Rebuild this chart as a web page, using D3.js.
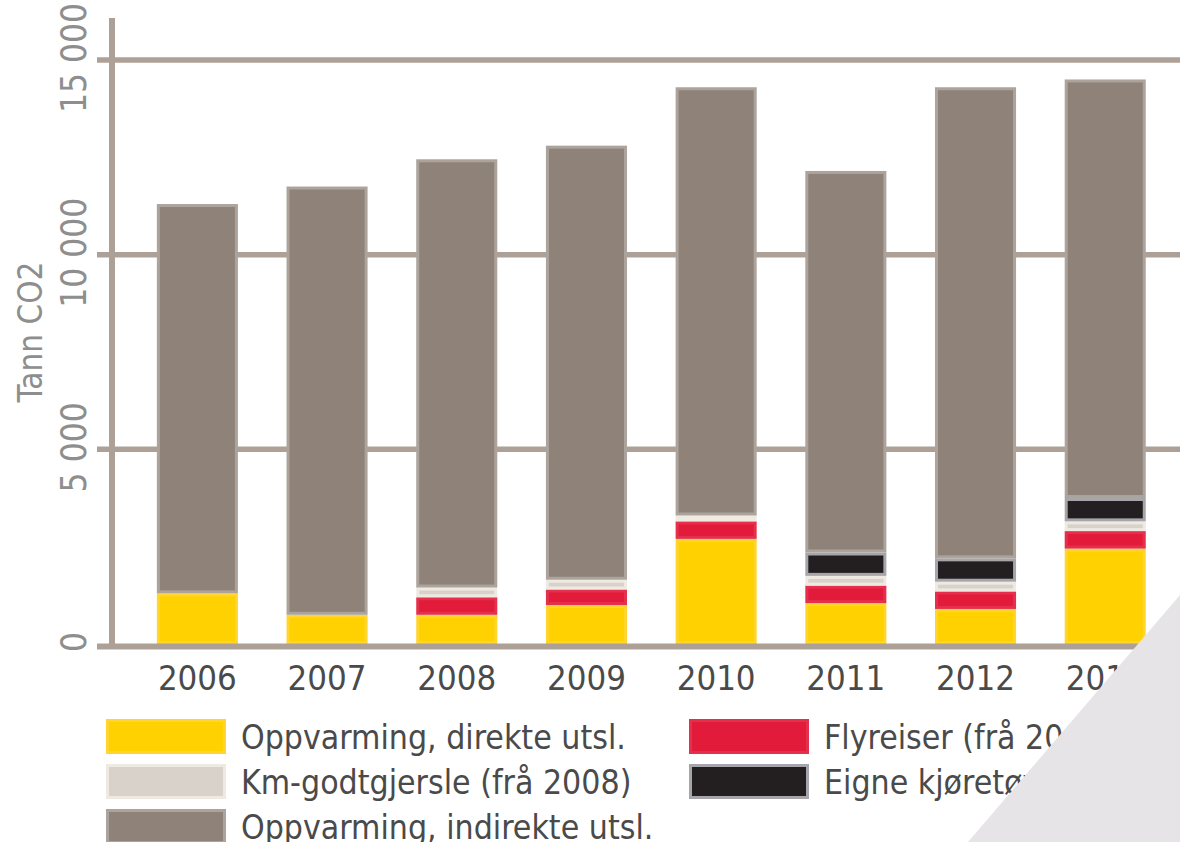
<!DOCTYPE html>
<html>
<head>
<meta charset="utf-8">
<script src="https://d3js.org/d3.v7.min.js"></script>
<style>
  body { margin: 0; background: #fff; }
  text { font-family: "Liberation Sans Narrow", "DejaVu Sans Condensed", sans-serif; }
</style>
</head>
<body>
<div id="chart"></div>
<script>
// data (tonn CO2)
var years = ["2006", "2007", "2008", "2009", "2010", "2011", "2012", "2013"];
var direkte   = [1300, 750, 750, 1000, 2700, 1050, 900, 2450];
var fly       = [0, 0, 450, 400, 450, 450, 450, 450];
var km        = [0, 0, 250, 250, 150, 250, 250, 250];
var kjoretoy  = [0, 0, 0, 0, 0, 600, 600, 600];
var indirekte = [10000, 11000, 11000, 11150, 11000, 9800, 12100, 10750];
var yTicks = [0, 5000, 10000, 15000];
var yTickLabels = ["0", "5 000", "10 000", "15 000"];

var keys = ["direkte", "fly", "km", "kjoretoy", "indirekte"];
var fills   = {direkte: "#ffd100", fly: "#e31b3b", km: "#d8d2ca", kjoretoy: "#231f20", indirekte: "#8f8279"};
var borders = {direkte: "#ffd52e", fly: "#e5304d", km: "#eeeae1", kjoretoy: "#a6a5a9", indirekte: "#aca49c"};

var rows = years.map(function(y, i) {
  return {year: y, direkte: direkte[i], fly: fly[i], km: km[i], kjoretoy: kjoretoy[i], indirekte: indirekte[i]};
});

var W = 1180, H = 842;
var svg = d3.select("#chart").append("svg").attr("width", W).attr("height", H);

var x = d3.scaleBand().domain(years).range([92, 1210.6]).paddingInner(0.375).paddingOuter(0.5);
var y = d3.scaleLinear().domain([0, 15000]).range([644, 60]);
var grid = "#ada197";

// gridlines
svg.append("g").selectAll("line")
  .data(yTicks.filter(function(d) { return d > 0; }))
  .join("line")
    .attr("x1", 97).attr("x2", W)
    .attr("y1", function(d) { return y(d); }).attr("y2", function(d) { return y(d); })
    .attr("stroke", grid).attr("stroke-width", 5.5);

// y axis line
svg.append("line").attr("x1", 112).attr("x2", 112).attr("y1", 18).attr("y2", y(0) + 4)
  .attr("stroke", grid).attr("stroke-width", 6);

// tick labels, rotated
svg.append("g").selectAll("text")
  .data(yTicks)
  .join("text")
    .attr("transform", function(d) { return "translate(86," + (y(d) - 2) + ") rotate(-90)"; })
    .attr("text-anchor", "middle")
    .attr("fill", "#8e8e8e")
    .style("font-size", "35px")
    .text(function(d, i) { return yTickLabels[i]; });

svg.append("text")
  .attr("transform", "translate(42,332) rotate(-90)")
  .attr("text-anchor", "middle")
  .attr("fill", "#8e8e8e")
  .style("font-size", "33px")
  .text("Tann CO2");

// stacked bars
var series = d3.stack().keys(keys)(rows);
svg.append("g").selectAll("g")
  .data(series)
  .join("g")
    .attr("fill", function(s) { return fills[s.key]; })
    .attr("stroke", function(s) { return borders[s.key]; })
    .attr("stroke-width", 3)
  .selectAll("rect")
  .data(function(s) { return s.filter(function(d) { return d[1] - d[0] > 0; }); })
  .join("rect")
    .attr("x", function(d) { return x(d.data.year) + 1.5; })
    .attr("width", x.bandwidth() - 3)
    .attr("y", function(d) { return y(d[1]) + 1.5; })
    .attr("height", function(d) { return Math.max(0, y(d[0]) - y(d[1]) - 3); });

// baseline
svg.append("line").attr("x1", 97).attr("x2", W).attr("y1", y(0) + 2.5).attr("y2", y(0) + 2.5)
  .attr("stroke", grid).attr("stroke-width", 6);

// year labels
svg.append("g").selectAll("text")
  .data(years)
  .join("text")
    .attr("x", function(d) { return x(d) + x.bandwidth() / 2; })
    .attr("y", 690)
    .attr("text-anchor", "middle")
    .attr("fill", "#4a4a4a")
    .style("font-size", "34.5px")
    .text(function(d) { return d; });

// legend
var legend = [
  {key: "direkte",   label: "Oppvarming, direkte utsl.",   x: 106, y: 719},
  {key: "km",        label: "Km-godtgjersle (frå 2008)",   x: 106, y: 764},
  {key: "indirekte", label: "Oppvarming, indirekte utsl.", x: 106, y: 809},
  {key: "fly",       label: "Flyreiser (frå 2008)",        x: 689, y: 719},
  {key: "kjoretoy",  label: "Eigne kjøretøy (frå 2011)",   x: 689, y: 764}
];
var lg = svg.append("g").selectAll("g").data(legend).join("g")
  .attr("transform", function(d) { return "translate(" + d.x + "," + d.y + ")"; });
lg.append("rect")
  .attr("x", 1.5).attr("y", 1.5).attr("width", 117).attr("height", 32)
  .attr("fill", function(d) { return fills[d.key]; })
  .attr("stroke", function(d) { return borders[d.key]; })
  .attr("stroke-width", 3);
lg.append("text")
  .attr("x", 135).attr("y", 30)
  .attr("fill", "#4a4a4a")
  .style("font-size", "33.5px")
  .text(function(d) { return d.label; });

// grey corner triangle
svg.append("path")
  .attr("d", "M968," + H + "L" + W + "," + H + "L" + W + ",595Z")
  .attr("fill", "#e6e4e7");
</script>
</body>
</html>
